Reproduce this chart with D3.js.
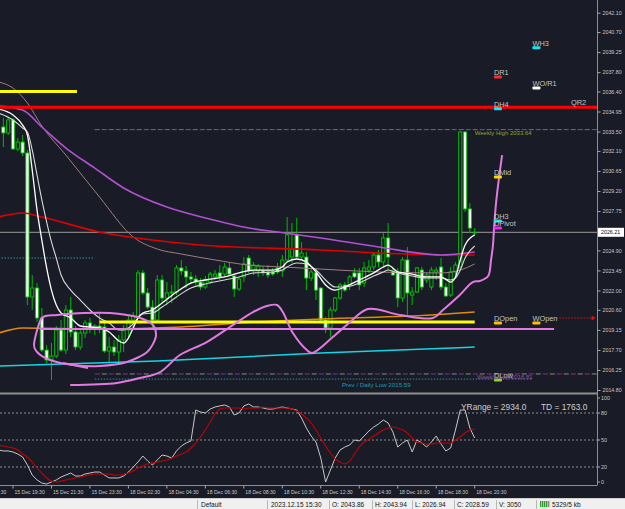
<!DOCTYPE html>
<html><head><meta charset="utf-8">
<script src="https://cdn.jsdelivr.net/npm/d3@7"></script>
<style>html,body{margin:0;padding:0;background:#191c26;overflow:hidden}svg{display:block}</style>
</head><body><svg id="c" width="625" height="509"></svg>
<script>
// ---------------- DATA ----------------
const firstBar = 6; // bar index of first candle (bar 0 = 15 Dec 17:30, M15)
const opens = [
2033.83,2033.40,2034.34,2032.24,2032.74,2031.95,2021.53,2022.18,2020.01,2017.69,
2016.97,2017.26,2019.14,2017.69,2020.59,2019.00,2017.91,2018.92,2019.65,2019.29,
2019.43,2019.36,2017.62,2017.91,2017.55,2018.42,2019.14,2019.86,2020.15,2023.27,
2021.82,2020.80,2019.86,2022.76,2021.46,2021.82,2021.89,2023.63,2023.41,2022.98,
2022.83,2022.61,2022.25,2022.61,2022.98,2023.27,2023.19,2023.63,2023.05,2022.11,
2022.98,2024.35,2023.41,2023.41,2023.41,2023.34,2023.34,2023.63,2023.41,2024.21,
2024.42,2026.02,2024.42,2024.42,2022.90,2023.27,2022.18,2019.86,2019.29,2020.59,
2021.46,2022.40,2022.40,2023.27,2023.27,2022.54,2023.48,2023.70,2024.57,2024.06,
2025.80,2023.34,2023.27,2021.46,2024.21,2021.67,2021.89,2023.48,2022.76,2022.25,
2023.34,2023.70,2022.25,2021.67,2023.34,2023.70,2033.47,2027.90,2026.16];
const highs = [
2034.48,2034.55,2034.48,2033.03,2033.25,2032.17,2023.12,2022.54,2020.73,2018.06,
2018.20,2019.43,2019.86,2020.95,2021.53,2019.43,2019.14,2019.86,2020.01,2019.58,
2020.37,2019.86,2018.63,2018.42,2018.78,2019.50,2020.23,2020.44,2023.48,2023.48,
2022.18,2021.31,2023.12,2023.12,2022.61,2022.40,2023.84,2024.21,2023.77,2023.34,
2023.12,2022.90,2023.05,2023.34,2023.48,2023.84,2023.99,2024.06,2023.27,2022.98,
2024.42,2024.57,2024.06,2023.92,2023.77,2023.84,2023.63,2023.99,2024.57,2027.32,
2026.88,2027.25,2025.51,2024.78,2023.63,2023.63,2022.25,2020.08,2020.80,2021.53,
2022.54,2022.61,2023.12,2023.63,2023.63,2024.06,2024.21,2024.78,2024.93,2026.16,
2026.88,2023.63,2023.63,2024.42,2025.15,2022.25,2023.70,2023.70,2023.27,2023.70,
2023.70,2024.35,2022.54,2023.70,2024.06,2033.54,2033.54,2028.33,2026.52];
const lows = [
2032.38,2033.25,2032.17,2032.09,2031.73,2020.95,2020.59,2019.72,2017.55,2016.75,
2015.52,2017.11,2017.55,2017.40,2018.63,2017.69,2017.69,2018.56,2018.92,2018.78,
2018.92,2017.48,2016.75,2017.26,2016.61,2017.55,2018.63,2019.29,2020.01,2021.67,
2020.66,2019.29,2019.72,2021.17,2020.95,2021.09,2021.67,2023.12,2022.18,2022.54,
2022.40,2022.03,2022.11,2022.47,2022.76,2022.76,2022.98,2023.05,2021.53,2021.96,
2022.61,2023.27,2023.12,2022.98,2023.05,2022.90,2023.05,2023.19,2022.98,2024.06,
2023.99,2024.35,2024.28,2022.03,2022.69,2021.31,2019.65,2018.92,2018.63,2020.44,
2021.31,2021.89,2022.03,2022.90,2022.03,2022.25,2023.27,2023.48,2023.70,2023.63,
2023.48,2023.05,2020.80,2021.17,2020.23,2020.95,2021.82,2022.03,2022.54,2022.03,
2022.76,2022.03,2021.53,2021.53,2023.12,2023.48,2027.68,2026.16,2026.02];
const closes = [
2033.40,2034.34,2032.24,2032.74,2031.95,2021.53,2022.18,2020.01,2017.69,2016.97,
2017.26,2019.14,2017.69,2020.59,2019.00,2017.91,2018.92,2019.65,2019.29,2019.43,
2019.29,2017.62,2017.91,2017.55,2018.42,2019.14,2019.86,2020.15,2023.27,2021.82,
2020.80,2019.86,2022.76,2021.46,2021.82,2021.89,2023.63,2023.41,2022.98,2022.83,
2022.61,2022.25,2022.76,2023.19,2023.19,2022.98,2023.70,2023.19,2022.11,2022.83,
2023.92,2023.41,2023.84,2023.77,2023.27,2023.12,2023.19,2023.34,2024.21,2026.02,
2025.00,2024.42,2024.71,2022.90,2023.34,2022.03,2019.86,2019.29,2020.59,2021.46,
2022.40,2022.03,2022.98,2022.98,2022.40,2023.63,2023.70,2024.57,2024.06,2025.80,
2024.42,2023.12,2021.46,2024.21,2021.82,2021.89,2023.63,2022.25,2023.12,2023.48,
2023.48,2022.25,2021.60,2023.34,2023.84,2033.47,2027.90,2026.52,2026.21];

// moving averages (bar index, price)
const purpleBars = [5,10,14,19,25,31,40,48,57,63,72,84,97,104];
const purpleVals = [2035.35,2035.06,2033.83,2032.31,2030.86,2029.42,2028.04,2027.25,2026.52,2026.23,2025.80,2025.15,2024.57,2024.78];
const redMaBars = [5,10,14,26,37,47,72,84,100,104];
const redMaVals = [2027.32,2027.61,2027.32,2026.23,2025.65,2025.29,2024.93,2024.71,2024.57,2024.57];
const rosyBars = [5,8,11,14,19,26,33,38,43,50,57,64,72,84,97,101,104];
const rosyVals = [2037.09,2036.65,2035.57,2033.90,2031.80,2028.76,2025.87,2025.00,2024.64,2024.21,2023.84,2023.70,2023.55,2023.34,2023.27,2023.48,2023.92];
const whiteBars = [5,8,10,11,12,13,14,15,16,17,18,20,22,24,26,28,30,31,32,33,34,35,37,39,42,45,48,52,55,58,62,64,65,67,69,71,73,75,77,80,83,85,86,88,91,94,97,99,100,101,102,104];
const whiteFastVals = [2035.13,2034.70,2033.97,2033.25,2030.72,2027.82,2025.65,2023.63,2022.03,2020.95,
2020.37,2020.01,2019.43,2019.36,2019.29,2019.00,2018.35,2018.20,2018.56,2019.29,
2020.01,2020.37,2020.59,2021.09,2021.89,2022.54,2022.76,2022.98,2023.27,2023.48,
2023.48,2023.70,2024.06,2024.28,2024.06,2023.34,2022.40,2022.03,2022.25,2022.76,
2023.27,2023.70,2023.84,2023.34,2023.19,2022.98,2022.98,2022.61,2022.98,2024.21,
2025.29,2026.02];
const whiteSlowVals = [2034.84,2034.34,2033.76,2033.47,2032.17,2030.36,2028.55,2026.96,2025.51,2024.35,
2023.12,2022.03,2021.31,2020.59,2020.01,2019.65,2019.14,2019.14,2019.29,2019.58,
2020.01,2020.30,2020.37,2020.80,2021.53,2022.18,2022.47,2022.76,2022.98,2023.27,
2023.34,2023.48,2023.70,2023.99,2023.92,2023.48,2022.76,2022.25,2022.25,2022.54,
2023.05,2023.34,2023.48,2023.27,2023.05,2022.90,2022.90,2022.76,2022.90,2023.48,
2024.35,2025.22];
const orangeBars = [5,10,26,43,55,72,95,104];
const orangeVals = [2018.92,2019.29,2019.21,2019.36,2019.65,2019.94,2020.23,2020.44];
const cyanBars = [5,38,72,104];
const cyanVals = [2016.54,2016.90,2017.48,2017.91];

// hand-drawn pink curves (bar index, price)
const ellipseBars = [12.4,14.0,17.2,22.6,28.2,33.8,37.1,37.7,35.9,31.7,26.1,20.5,15.7,13.0];
const ellipseVals = [2018.20,2020.01,2020.23,2020.37,2020.37,2020.08,2019.50,2018.63,2017.55,2016.83,2016.54,2016.61,2016.97,2017.55];
const tailBars = [18.4,23.6];
const tailVals = [2016.75,2016.39];
const curveBars = [19.9,29.6,34.4,38.6,42.7,48.3,53.7,57.9,60.8,62.9,64.1,66.2,69.1,70.2,74.5,78.1,81.8,88.5,95.3,97.4,100.9,103.6,105.1,106.8,107.4,107.8,108.0,108.4,109.0,109.7];
const curveVals = [2015.16,2015.31,2015.67,2016.10,2017.33,2018.27,2019.50,2020.44,2020.88,2020.95,2020.44,2018.92,2017.69,2017.48,2018.63,2019.72,2020.66,2020.23,2020.01,2020.59,2021.67,2022.61,2022.69,2023.05,2024.21,2025.29,2026.38,2028.19,2030.00,2031.80];

// pivot labels
const pivotNames = ["WH3","DR1","WO/R1","DH4","QR2","DMid","DH3","DPivot","DOpen","WOpen","DLow"];
const pivotPrices = [2039.57,2037.45,2036.65,2035.15,2035.30,2030.21,2027.03,2026.52,2019.65,2019.65,2015.52];
const pivotBars = [116,108,116,108,124,108,108,108,108,116,108];
const pivotColors = ["#19e3f5","#ff2a2a","#ffffff","#19e3f5",null,"#ffd700","#19e3f5","#ff1aff","#ffc000","#ffc000","#9acd32"];

// levels
const currentPrice = 2026.21;
const redLevel = 2035.26;
const topYellowLevel = 2036.40;
const weeklyHigh = 2033.64;
const tealShortLevel = 2024.35;
const yellowLevel = 2019.72;
const pinkLevel = 2019.21;
const weeklyLowLine = 2015.96;
const prevDailyLow = 2015.59;
const wOpenArrow = 2020.01;

const priceTicks = [2042.10,2040.70,2039.25,2037.80,2036.40,2034.95,2033.50,2032.10,2030.65,2029.20,2027.75,2024.90,2023.45,2022.00,2020.60,2019.15,2017.70,2016.25,2014.80];
const timeLabels = ["15 Dec 17:30","15 Dec 19:30","15 Dec 21:30","15 Dec 23:30","18 Dec 02:30","18 Dec 04:30","18 Dec 06:30","18 Dec 08:30","18 Dec 10:30","18 Dec 12:30","18 Dec 14:30","18 Dec 16:30","18 Dec 18:30","18 Dec 20:30"];

// oscillator (bar 5 .. 104)
const oscFirst = 5;
const oscMain = [
38.9,37.8,37.8,36.7,34.4,31.1,22.2,11.1,5.6,2.2,
1.1,3.3,5.6,8.9,11.1,13.3,10,10,12.2,13.3,
14.4,14.4,11.1,7.8,7.8,7.8,10,14.4,20,25.6,
32.2,26.7,22.2,27.8,33.3,32.2,30,37.8,43.3,46.7,
48.9,83.3,81.1,80,84.4,86.7,87.8,88.9,86.7,77.8,
80,87.8,90,86.7,86.7,85.6,84.4,84.4,85.6,86.7,
85.6,84.4,83.3,74.4,63.3,54.4,47.8,30,3.3,16.7,
30,38.9,42.2,44.4,50,48.9,54.4,60,64.4,67.8,
72.2,68.9,58.9,42.2,46.7,50,36.7,50,46.7,42.2,
47.8,54.4,45.6,37.8,41.1,61.1,83.3,83.3,63.3,52.2];
const oscSignal = [
44.4,43.3,42.2,41.1,38.9,34.4,31.1,25.6,18.9,13.3,
7.8,4.4,3.3,4.4,5.6,6.7,7.8,8.9,10,11.1,
12.2,12.2,12.2,12.2,11.1,11.1,12.2,13.3,15.6,18.9,
21.1,23.3,24.4,25.6,26.7,27.8,30,32.2,34.4,36.7,
41.1,46.7,53.3,61.1,70,78.9,84.4,85.6,85.6,85.6,
85.6,84.4,85.6,85.6,85.6,86.7,85.6,85.6,85.6,85.6,
85.6,84.4,82.2,78.9,74.4,68.9,61.1,52.2,43.3,35.6,
28.9,25.6,23.3,26.7,34.4,42.2,47.8,51.1,54.4,57.8,
61.1,63.3,64.4,63.3,61.1,57.8,52.2,47.8,46.7,45.6,
45.6,46.7,46.7,46.7,46.7,50,53.3,57.8,61.1,62.2];
const oscLevels = [80,50,20];
const oscTicks = [100,80,50,20,0];
const yRangeText = "YRange = 2934.0";
const tdText = "TD = 1763.0";

const statusTexts = ["Default","2023.12.15 15:30","O: 2043.86","H: 2043.94","L: 2026.94","C: 2028.59","V: 3050","5329/5 kb"];

// ---------------- DRAW ----------------
const W = 625, H = 509, BG = "#191c26";
const FONT = "'Liberation Sans', Arial, sans-serif";
const svg = d3.select("#c");
svg.append("rect").attr("width", W).attr("height", H).attr("fill", BG);

const AX = 597;           // price axis x
const MAIN_B = 392;       // main panel bottom
const IND_T = 395, IND_B = 485.5;

const x = d3.scaleLinear().domain([0, 104]).range([-25.5, 474.7]);
const y = d3.scaleLinear().domain([2014.80, 2042.10]).range([390, 12.7]);
const yo = d3.scaleLinear().domain([0, 100]).range([485, 395]);

const defs = svg.append("defs");
defs.append("clipPath").attr("id", "mc").append("rect").attr("x", 0).attr("y", 0).attr("width", AX).attr("height", MAIN_B);
defs.append("clipPath").attr("id", "ic").append("rect").attr("x", 0).attr("y", IND_T).attr("width", AX).attr("height", IND_B - IND_T);
const m = svg.append("g").attr("clip-path", "url(#mc)");

function hline(g, price, b0, b1, color, w, dash, off) {
  g.append("line").attr("x1", x(b0)).attr("x2", x(b1)).attr("y1", y(price)).attr("y2", y(price))
    .attr("stroke", color).attr("stroke-width", w)
    .attr("stroke-dasharray", dash || null).attr("stroke-dashoffset", off || 0);
}

// background levels
hline(m, currentPrice, -10, 130, "#9c9c9c", 1);
hline(m, tealShortLevel, 5, 25, "#1f9aa6", 1, "1.5,1.5");
hline(m, weeklyHigh, 25, 130, "#6f7f2a", 1, "5,9");
hline(m, weeklyHigh, 25, 130, "#22808a", 1, "5,9", 7);
hline(m, weeklyLowLine, 25, 130, "#8a2e8a", 1, "5,9");
hline(m, weeklyLowLine, 25, 130, "#8a8a8a", 1, "5,9", 7);
hline(m, prevDailyLow, 25, 116, "#1f8f99", 1, "1.5,1.5");

// candles
const bars = opens.map((o, k) => ({ i: firstBar + k, o, h: highs[k], l: lows[k], c: closes[k] }));
m.append("g").selectAll("line").data(bars).join("line")
  .attr("x1", d => x(d.i)).attr("x2", d => x(d.i))
  .attr("y1", d => y(d.h)).attr("y2", d => y(d.l))
  .attr("stroke", "#00b800").attr("stroke-width", 1);
m.append("g").selectAll("rect").data(bars).join("rect")
  .attr("x", d => x(d.i) - 1.6).attr("width", 3.2)
  .attr("y", d => y(Math.max(d.o, d.c)))
  .attr("height", d => Math.max(0.8, Math.abs(y(d.o) - y(d.c))))
  .attr("fill", d => d.c >= d.o ? BG : "#ffffff")
  .attr("stroke", "#00c800").attr("stroke-width", 0.9);

// moving averages
function series(g, bx, vals, color, w, curve) {
  const pts = bx.map((b, k) => [x(b), y(vals[k])]);
  g.append("path").attr("d", d3.line().curve(curve || d3.curveMonotoneX)(pts))
    .attr("fill", "none").attr("stroke", color).attr("stroke-width", w);
}
series(m, rosyBars, rosyVals, "#a07c80", 1);
series(m, redMaBars, redMaVals, "#e00000", 1.6);
series(m, purpleBars, purpleVals, "#b150d2", 1.6);
series(m, orangeBars, orangeVals, "#e08c00", 1.5);
series(m, cyanBars, cyanVals, "#12d6e6", 1.5);
series(m, whiteBars, whiteSlowVals, "#d8d8d8", 1.1);
series(m, whiteBars, whiteFastVals, "#ffffff", 1.3);

// objects
hline(m, topYellowLevel, 5, 21.3, "#ffff00", 3);
hline(m, redLevel, -10, 130, "#ff0000", 3);
hline(m, yellowLevel, 26, 104, "#ffff00", 3);
hline(m, pinkLevel, 13.6, 120.5, "#e27ae2", 2);

const PINK = "#e27ae2";
series(m, ellipseBars, ellipseVals, PINK, 2, d3.curveCardinalClosed.tension(0.2));
series(m, tailBars, tailVals, PINK, 2, d3.curveLinear);
series(m, curveBars, curveVals, PINK, 2, d3.curveCatmullRom.alpha(0.5));

// red dotted arrow (WOpen)
hline(m, wOpenArrow, 121, 128.3, "#e01010", 1, "1.5,1.5");
m.append("path").attr("d", `M${x(128.3)},${y(wOpenArrow) - 2.5}L${x(128.3) + 4},${y(wOpenArrow)}L${x(128.3)},${y(wOpenArrow) + 2.5}Z`).attr("fill", "#e01010");

// pivot markers + labels
pivotNames.forEach((n, k) => {
  const px = x(pivotBars[k]), py = y(pivotPrices[k]);
  if (pivotColors[k]) {
    m.append("rect").attr("x", px).attr("y", py - 1.5).attr("width", 8).attr("height", 3).attr("rx", 1).attr("fill", pivotColors[k]);
  }
  m.append("text").attr("x", px).attr("y", py - 2).text(n)
    .attr("fill", "#c4c4c4").style("font", `7.4px ${FONT}`);
});

// level labels
m.append("text").attr("x", x(104)).attr("y", y(weeklyHigh) + 5).text("Weekly High " + weeklyHigh.toFixed(2))
  .attr("fill", "#8da23a").style("font", `6px ${FONT}`);
m.append("text").attr("x", x(104.5)).attr("y", y(weeklyLowLine) + 5).text("Weekly Low 2016.81")
  .attr("fill", "#9a4fa0").style("font", `6px ${FONT}`);
m.append("text").attr("x", x(76.4)).attr("y", y(prevDailyLow) + 7.5).text("Prev / Daily Low " + prevDailyLow.toFixed(2))
  .attr("fill", "#1f9aa6").style("font", `6.2px ${FONT}`);

// ---- oscillator panel ----
const ig = svg.append("g").attr("clip-path", "url(#ic)");
oscLevels.forEach(v => {
  ig.append("line").attr("x1", 0).attr("x2", AX).attr("y1", yo(v)).attr("y2", yo(v))
    .attr("stroke", "#8c8c8c").attr("stroke-width", 1).attr("stroke-dasharray", "2,2");
});
const oscLine = d3.line().x((d, k) => x(oscFirst + k)).y(d => yo(d));
ig.append("path").attr("d", oscLine(oscMain)).attr("fill", "none").attr("stroke", "#c8c8c8").attr("stroke-width", 1);
ig.append("path").attr("d", oscLine.curve(d3.curveMonotoneX)(oscSignal)).attr("fill", "none").attr("stroke", "#c40000").attr("stroke-width", 1.1);
ig.append("text").attr("x", 461).attr("y", 410).text(yRangeText).attr("fill", "#cfcfcf").style("font", `8.4px ${FONT}`);
ig.append("text").attr("x", 541).attr("y", 410).text(tdText).attr("fill", "#cfcfcf").style("font", `8.4px ${FONT}`);

// panel frames
svg.append("line").attr("x1", 0).attr("x2", AX).attr("y1", 393.5).attr("y2", 393.5).attr("stroke", "#8e8e8e").attr("stroke-width", 2);
svg.append("line").attr("x1", 0).attr("x2", AX).attr("y1", IND_B).attr("y2", IND_B).attr("stroke", "#8e8e8e").attr("stroke-width", 1);
svg.append("line").attr("x1", AX + 0.5).attr("x2", AX + 0.5).attr("y1", 0).attr("y2", IND_B).attr("stroke", "#8e8e8e").attr("stroke-width", 1);

// price axis
const pa = svg.append("g").attr("transform", `translate(${AX + 0.5},0)`)
  .call(d3.axisRight(y).tickValues(priceTicks).tickSize(3).tickPadding(2).tickFormat(d3.format(".2f")));
pa.select(".domain").remove();
pa.selectAll("line").attr("stroke", "#a8a8a8");
pa.selectAll("text").attr("fill", "#c8c8c8").style("font", `5.3px ${FONT}`);
// current price tag
svg.append("rect").attr("x", AX + 1).attr("y", y(currentPrice) - 4.5).attr("width", W - AX - 2).attr("height", 9).attr("fill", "#ffffff");
svg.append("text").attr("x", AX + 4).attr("y", y(currentPrice) + 2).text(currentPrice.toFixed(2)).attr("fill", "#000").style("font", `5.3px ${FONT}`);

// oscillator axis
oscTicks.forEach(v => {
  const py = Math.max(398, Math.min(482, yo(v)));
  svg.append("line").attr("x1", AX + 0.5).attr("x2", AX + 3).attr("y1", py).attr("y2", py).attr("stroke", "#a8a8a8");
  svg.append("text").attr("x", AX + 4).attr("y", py + 2).text(v).attr("fill", "#c8c8c8").style("font", `5.3px ${FONT}`);
});

// time axis
timeLabels.forEach((t, k) => {
  const bx = x(k * 8);
  svg.append("line").attr("x1", bx).attr("x2", bx).attr("y1", IND_B).attr("y2", IND_B + 3).attr("stroke", "#a8a8a8");
  svg.append("text").attr("x", bx + 1.5).attr("y", 494).text(t).attr("fill", "#c8c8c8").style("font", `5.1px ${FONT}`);
});

// status bar
svg.append("rect").attr("x", 0).attr("y", 498).attr("width", W).attr("height", 11).attr("fill", "#f0f0f0");
svg.append("line").attr("x1", 0).attr("x2", W).attr("y1", 498.5).attr("y2", 498.5).attr("stroke", "#d0d0d0");
const statusX = [201, 271, 332, 375, 415, 457, 499, 552];
const sepX = [197, 267, 329, 372, 412, 454, 496, 536];
sepX.forEach(sx => svg.append("line").attr("x1", sx + 0.5).attr("x2", sx + 0.5).attr("y1", 500).attr("y2", 509).attr("stroke", "#b8b8b8"));
statusTexts.forEach((t, k) => {
  svg.append("text").attr("x", statusX[k]).attr("y", 507).text(t).attr("fill", "#111").style("font", `6.5px ${FONT}`);
});
// connection icon
[0, 1, 2, 3, 4].forEach(k => {
  svg.append("rect").attr("x", 540 + k * 2).attr("y", 501).attr("width", 1.4).attr("height", 6).attr("fill", k < 4 ? "#2e9a2e" : "#888");
});
</script>
</body></html>
